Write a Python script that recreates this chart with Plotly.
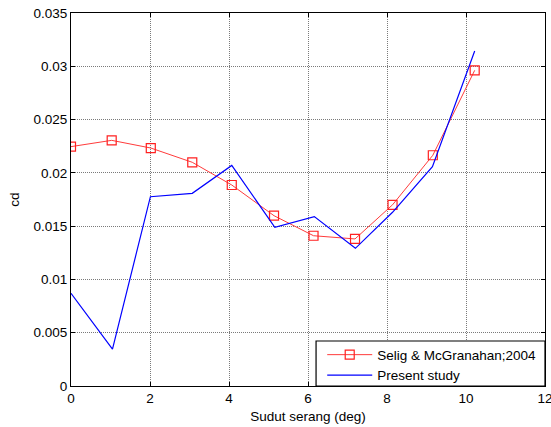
import plotly.graph_objects as go

# Data
alpha_ref = [0, 1.03, 2.02, 3.07, 4.07, 5.14, 6.14, 7.19, 8.14, 9.16, 10.22]
cd_ref = [0.02246, 0.02305, 0.02233, 0.02099, 0.01886, 0.01598, 0.0141, 0.0138, 0.0170, 0.02165, 0.02962]

alpha_present = [0, 1.05, 2.01, 3.07, 4.07, 5.16, 6.16, 7.2, 8.14, 9.15, 10.22]
cd_present = [0.0087, 0.00347, 0.01776, 0.01808, 0.0207, 0.01489, 0.0159, 0.01292, 0.0163, 0.02058, 0.03143]

x_ticks = [0, 2, 4, 6, 8, 10, 12]
y_ticks = [0, 0.005, 0.01, 0.015, 0.02, 0.025, 0.03, 0.035]
y_tick_text = ["0", "0.005", "0.01", "0.015", "0.02", "0.025", "0.03", "0.035"]

FONT = "Liberation Sans, Arial, sans-serif"
FS = 13.5

fig = go.Figure()
fig.add_trace(go.Scatter(
    x=alpha_ref, y=cd_ref, mode="lines+markers",
    name="Selig & McGranahan;2004",
    line=dict(color="#ff3b3b", width=1),
    marker=dict(symbol="square-open", size=9, color="#ff2020", line=dict(width=1.2)),
))
fig.add_trace(go.Scatter(
    x=alpha_present, y=cd_present, mode="lines",
    name="Present study",
    line=dict(color="#0000ff", width=1.2),
))

axis_common = dict(
    showline=True, linecolor="black", linewidth=1.2, mirror="allticks",
    ticks="inside", ticklen=4, tickcolor="black", tickwidth=1,
    showgrid=True, gridcolor="#7a7a7a", gridwidth=1, griddash="1px,1px",
    zeroline=False, ticklabeloverflow="allow", automargin=False,
    tickfont=dict(family=FONT, size=FS, color="black"),
)

fig.update_xaxes(range=[0, 12], tickvals=x_ticks,
                 title=dict(text="Sudut serang (deg)", font=dict(family=FONT, size=FS, color="black"), standoff=6),
                 **axis_common)
fig.update_yaxes(range=[0, 0.035], tickvals=y_ticks, ticktext=y_tick_text,
                 title=dict(text="cd", font=dict(family=FONT, size=FS, color="black"), standoff=10),
                 **axis_common)

# legend box
fig.add_shape(type="rect", xref="paper", yref="paper",
              x0=0.517, x1=1.0, y0=0.0, y1=0.1206,
              line=dict(color="black", width=1.2), fillcolor="white", layer="above")

fig.update_layout(
    width=551, height=427,
    margin=dict(l=71, r=6, t=13, b=41),
    paper_bgcolor="white", plot_bgcolor="white",
    font=dict(family=FONT, size=FS, color="black"),
    showlegend=True,
    legend=dict(x=0.53, y=0.125, xanchor="left", yanchor="top",
                bgcolor="rgba(0,0,0,0)", borderwidth=0,
                font=dict(family=FONT, size=FS, color="black"),
                itemwidth=45, tracegroupgap=0),
)

fig.write_html("out.html")
